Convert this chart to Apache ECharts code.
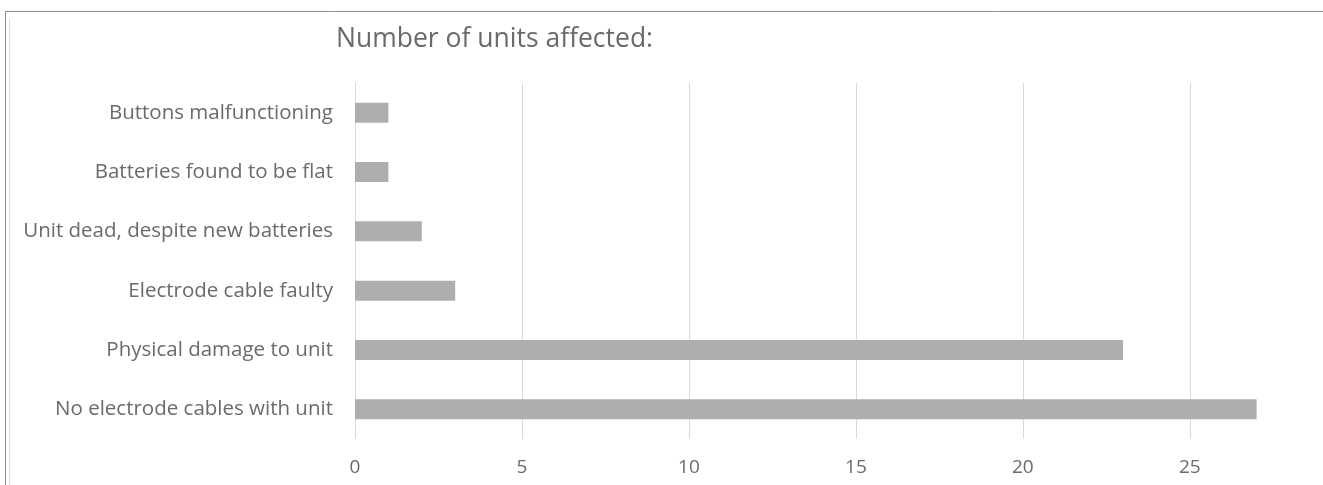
<!DOCTYPE html>
<html><head><meta charset="utf-8">
<script src="https://cdn.jsdelivr.net/npm/echarts@6/dist/echarts.min.js"></script>
<style>html,body{margin:0;padding:0;background:#fff}#c{width:1323px;height:485px}</style>
</head><body><div id="c"></div>
<script>
const categories = ["No electrode cables with unit","Physical damage to unit","Electrode cable faulty","Unit dead, despite new batteries","Batteries found to be flat","Buttons malfunctioning"];
const values = [27, 23, 3, 2, 1, 1];
const titleText = "Number of units affected:";
const chart = echarts.init(document.getElementById('c'));
const font = "'Open Sans', sans-serif";
chart.setOption({
  animation:false,
  title:{text:titleText,left:331,top:21,textStyle:{fontFamily:font,fontSize:26.5,fontWeight:'normal',color:'#6a6a6a'}},
  graphic:[
    {type:'line',shape:{x1:5,y1:11.5,x2:1323,y2:11.5},style:{stroke:'#8c8c8c',lineWidth:1}},
    {type:'line',shape:{x1:5.5,y1:11,x2:5.5,y2:485},style:{stroke:'#8c8c8c',lineWidth:1}},
    {type:'line',shape:{x1:9.5,y1:19,x2:9.5,y2:485},style:{stroke:'#dcdcdc',lineWidth:1}}
  ],
  grid:{left:355,right:33,top:83,bottom:46,containLabel:false},
  xAxis:{type:'value',min:0,max:28,interval:5,
    axisLine:{show:false},axisTick:{show:false},
    axisLabel:{fontFamily:font,fontSize:19,color:'#6a6a6a',margin:19,showMaxLabel:false,
      formatter:function(v){return v % 5 === 0 ? String(v) : '';}},
    splitLine:{show:true,showMaxLine:false,lineStyle:{color:'#d9d9d9',width:1}}},
  yAxis:{type:'category',data:categories,
    axisLine:{show:false},axisTick:{show:false},
    axisLabel:{fontFamily:font,fontSize:20.5,color:'#6a6a6a',margin:22}},
  series:[{type:'bar',data:values,barWidth:20,itemStyle:{color:'#aeaeb1'}}]
});
</script></body></html>
